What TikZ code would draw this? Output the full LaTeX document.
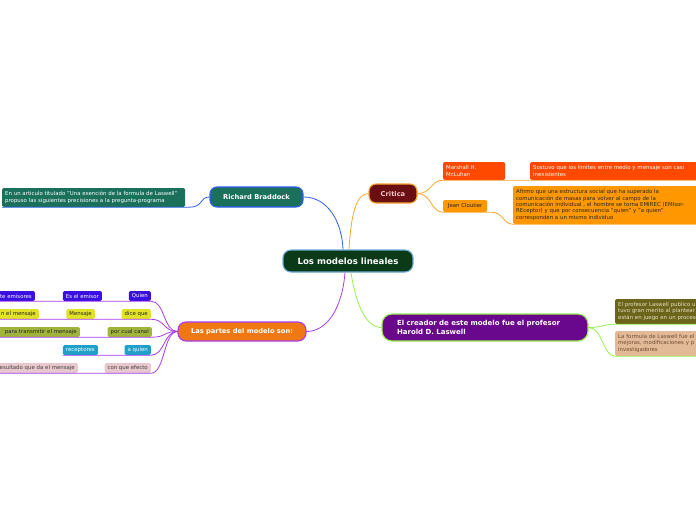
\documentclass[tikz,border=0pt]{standalone}
\usepackage{fontspec}
\setmainfont{DejaVu Sans}
\usetikzlibrary{positioning}
\definecolor{rootgreen}{RGB}{10,58,24}
\definecolor{rootline}{RGB}{110,170,215}
\definecolor{teal}{RGB}{27,112,92}
\definecolor{linkblue}{RGB}{45,95,240}
\definecolor{darkred}{RGB}{105,14,18}
\definecolor{linkorange}{RGB}{248,165,50}
\definecolor{redorange}{RGB}{255,72,0}
\definecolor{amber}{RGB}{255,152,0}
\definecolor{plum}{RGB}{105,8,138}
\definecolor{linkgreen}{RGB}{150,240,80}
\definecolor{olive}{RGB}{107,100,26}
\definecolor{peach}{RGB}{226,186,152}
\definecolor{pumpkin}{RGB}{240,120,18}
\definecolor{linkpurple}{RGB}{168,60,242}
\definecolor{ultra}{RGB}{58,16,224}
\definecolor{lemon}{RGB}{226,226,40}
\definecolor{moss}{RGB}{160,180,58}
\definecolor{cyanish}{RGB}{30,160,200}
\definecolor{rose}{RGB}{232,200,204}

\begin{document}
\begin{tikzpicture}[x=1pt,y=-1pt,
  topic/.style={rounded corners=7pt, line width=1.1pt, text=white,
    font=\bfseries\fontsize{6.7}{8.2}\selectfont, inner sep=2pt},
  leaf/.style={rounded corners=1.5pt, font=\fontsize{5.4}{6.3}\selectfont,
    inner xsep=3pt, inner ysep=1.5pt, align=left},
  tag/.style={leaf, minimum height=10pt},
  cut/.style={tag, text width=70pt, align=right},
  link/.style={line width=0.8pt}]
  \useasboundingbox (0,0) rectangle (696,520);
  \clip (0,0) rectangle (696,520);

  % centro
  \node[topic, fill=rootgreen, draw=rootline, rounded corners=8pt,
    minimum width=130pt, minimum height=22pt,
    font=\bfseries\fontsize{8.6}{10}\selectfont] (root) at (348,261) {Los modelos lineales};

  % Richard Braddock
  \node[topic, fill=teal, draw=linkblue, minimum width=93pt, minimum height=20pt]
    (braddock) at (256.5,197) {Richard Braddock};
  \node[leaf, fill=teal, text=white, text width=177pt, minimum height=19pt, anchor=west]
    (braddocknote) at (2,197.5)
    {En un articulo titulado "Una exención de la formula de Laswell"\\
     propuso las siguientes precisiones a la pregunta-programa};

  % Critica
  \node[topic, fill=darkred, draw=linkorange, minimum width=48pt, minimum height=19pt,
    text={rgb,255:red,245;green,200;blue,200}] (critica) at (393,193.5) {Critica};
  \node[leaf, fill=redorange, text=white, text width=56pt, minimum height=18pt, anchor=west]
    (mcluhan) at (443,171) {Marshall H.\\McLuhan};
  \node[leaf, fill=redorange, text=white, text width=164pt, minimum height=18pt, anchor=west]
    (sostuvo) at (530,171) {Sostuvo que los limites entre medio y mensaje son casi\\inexistentes};
  \node[leaf, fill=amber, text=black!85, minimum width=44pt, minimum height=12pt, anchor=west]
    (cloutier) at (443,206) {Jean Cloutier};
  \node[leaf, fill=amber, text=black!85, text width=179pt, minimum height=38pt, anchor=west,
    font=\fontsize{5.4}{6.3}\selectfont] (afirmo) at (513,205)
    {Afirmo que una estructura social que ha superado la\\
     comunicación de masas para volver al campo de la\\
     comunicación individual , el hombre se torna EMIREC (EMIsor-\\
     REceptor) y que por consecuencia "quien" y "a quien"\\
     corresponden a un mismo individuo};

  % El creador
  \node[topic, fill=plum, draw=linkgreen, rounded corners=10pt, minimum height=27pt,
    text width=176pt, inner xsep=15pt, align=left,
    font=\bfseries\fontsize{7}{8.6}\selectfont] (creador) at (485,327.5)
    {El creador de este modelo fue el profesor\\Harold D. Laswell};
  \node[leaf, fill=olive, text={rgb,255:red,230;green,225;blue,195}, text width=100pt,
    minimum height=25pt, anchor=west] (publico) at (615,311.5)
    {El profesor Laswell publico un\\tuvo gran merito al plantear\\están en juego en un proceso};
  \node[leaf, fill=peach, text={rgb,255:red,110;green,78;blue,50}, text width=100pt,
    minimum height=25pt, anchor=west] (formula) at (615,343.5)
    {La formula de Laswell fue el\\mejoras, modificaciones y p\\investigadores};

  % Las partes
  \node[topic, fill=pumpkin, draw=linkpurple, rounded corners=8pt,
    minimum width=128pt, minimum height=19pt] (partes) at (242,331.5) {Las partes del modelo son:};

  \node[tag, fill=ultra, text=white, anchor=east] (quien) at (151,296) {Quien};
  \node[tag, fill=ultra, text=white, anchor=east] (emisor) at (102,296) {Es el emisor};
  \node[cut, fill=ultra, text=white, anchor=east] (emisores) at (35,296) {te emisores};
  \node[tag, fill=lemon, text=black!85, anchor=east] (dice) at (151,314) {dice que};
  \node[tag, fill=lemon, text=black!85, anchor=east] (mensaje) at (95,314) {Mensaje};
  \node[cut, fill=lemon, text=black!85, anchor=east] (enmensaje) at (39,314) {n el mensaje};
  \node[tag, fill=moss, text=black!85, anchor=east] (canal) at (152,332) {por cual canal};
  \node[cut, fill=moss, text=black!85, anchor=east, text width=100pt] (transmitir) at (80,332) {para transmitir el mensaje};
  \node[tag, fill=cyanish, text=white, anchor=east] (aquien) at (151,350) {a quien};
  \node[tag, fill=cyanish, text=white, anchor=east] (receptores) at (98,350) {receptores};
  \node[tag, fill=rose, text=black!75, anchor=east] (efecto) at (151,368) {con que efecto};
  \node[cut, fill=rose, text=black!75, anchor=east, text width=100pt] (resultado) at (78,368) {resultado que da el mensaje};

  % ramas del centro
  \draw[link, linkblue] ([xshift=-5pt]root.north) .. controls (342,222) and (328,197) .. (braddock.east);
  \draw[link, linkorange] ([xshift=1pt]root.north) .. controls (351,215) and (356,193.5) .. (critica.west);
  \draw[link, linkpurple] ([xshift=-3pt]root.south) .. controls (342,310) and (326,331.5) .. (partes.east);
  \draw[link, linkgreen] ([xshift=3pt]root.south) .. controls (356,305) and (366,327.5) .. (creador.west);

  % Richard Braddock
  \draw[link, linkblue] (braddocknote.south west) -- ([xshift=4pt]braddocknote.south east)
    .. controls +(14,0) and +(-10,0) .. (braddock.west);

  % Critica
  \draw[link, linkorange] (critica.east) .. controls +(14,0) and +(-12,0) .. (mcluhan.south west)
    -- (sostuvo.south east);
  \draw[link, linkorange] (critica.east) .. controls +(14,0) and +(-12,0) .. (cloutier.south west)
    -- ([xshift=4pt]cloutier.south east) .. controls +(12,0) and +(-10,0) .. (afirmo.south west)
    -- (afirmo.south east);

  % El creador
  \draw[link, linkgreen] (creador.east) .. controls +(14,0) and +(-12,0) .. (publico.south west)
    -- (publico.south east);
  \draw[link, linkgreen] (creador.east) .. controls +(14,0) and +(-12,0) .. (formula.south west)
    -- (formula.south east);

  % Las partes
  \foreach \first/\last in {emisores/quien, enmensaje/dice, transmitir/canal,
      receptores/aquien, resultado/efecto}{
    \draw[link, linkpurple] (partes.west) .. controls +(-14,0) and +(14,0) .. (\last.south east)
      -- (\first.south west);
  }
\end{tikzpicture}
\end{document}
